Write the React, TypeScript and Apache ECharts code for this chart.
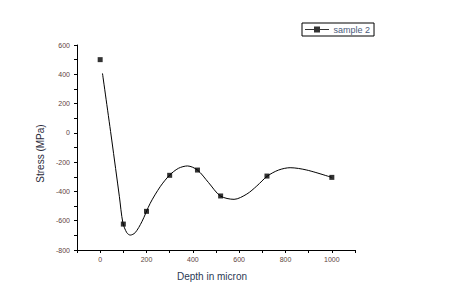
import React, { useEffect, useRef } from "react";
import * as echarts from "echarts";

// measured points (sample 2)
const depth = [0, 100, 200, 300, 420, 520, 720, 1000];
const stress = [500, -623, -536, -290, -254, -431, -295, -304];

// B-spline curve
const curveDepth = [10, 50, 83, 98, 115, 130, 151, 180, 216, 259, 299, 338, 377, 420, 468, 519, 578, 633, 676, 722, 770, 820, 892, 999];
const curveStress = [406, -49, -436, -613, -682, -698, -682, -607, -481, -368, -290, -242, -226, -254, -340, -431, -454, -418, -363, -295, -254, -238, -254, -304];

const seriesName = "sample 2";
const xTitle = "Depth in micron";
const yTitle = "Stress (MPa)";

export default function App() {
  const ref = useRef<HTMLDivElement>(null);
  useEffect(() => {
    if (!ref.current) return;
    const chart = echarts.init(ref.current, null, { renderer: "svg" });
    const font = "'Liberation Sans', Arial, sans-serif";
    chart.setOption({
      animation: false,
      backgroundColor: "#ffffff",
      textStyle: { fontFamily: font },
      grid: { left: 77, right: 98, top: 45, bottom: 40 },
      legend: {
        left: 302,
        top: 23,
        padding: [2, 4, 2, 3],
        borderColor: "#000",
        borderWidth: 1,
        itemWidth: 25,
        itemHeight: 6,
        data: [
          {
            name: seriesName,
            icon: "path://M0,2.5h9v1h-9z M9,0h6v6h-6z M15,2.5h9v1h-9z",
          },
        ],
        itemStyle: { color: "#000" },
        textStyle: { fontSize: 9, color: "#4a5a7a", fontFamily: font, padding: [0, 0, 0, -1] },
      },
      xAxis: {
        type: "value",
        min: -100,
        max: 1100,
        interval: 100,
        name: xTitle,
        nameLocation: "middle",
        nameGap: 21,
        nameTextStyle: { fontSize: 10, color: "#2b3a55", fontFamily: font, padding: [0, 8, 0, 0] },
        axisLine: { show: true, onZero: false, lineStyle: { color: "#000", width: 1 } },
        axisTick: { show: true, length: 3, lineStyle: { color: "#000" } },
        axisLabel: {
          fontSize: 7,
          color: "#5e4440",
          margin: 6,
          formatter: (v: number) => (v >= 0 && v % 200 === 0 ? String(v) : ""),
        },
        splitLine: { show: false },
      },
      yAxis: {
        type: "value",
        min: -800,
        max: 600,
        interval: 200,
        name: yTitle,
        nameLocation: "middle",
        nameGap: 27,
        nameTextStyle: { fontSize: 10, color: "#2a2a3a", fontFamily: font, padding: [0, 12, 0, 0] },
        axisLine: { show: true, onZero: false, lineStyle: { color: "#000", width: 1 } },
        axisTick: { show: true, length: 3, lineStyle: { color: "#000" } },
        minorTick: { show: true, splitNumber: 2, length: 3, lineStyle: { color: "#000" } },
        axisLabel: { fontSize: 7, color: "#5e4440", margin: 7 },
        splitLine: { show: false },
      },
      series: [
        {
          name: "curve",
          type: "line",
          data: curveDepth.map((d, i) => [d, curveStress[i]]),
          smooth: 0.3,
          showSymbol: false,
          symbol: "none",
          lineStyle: { color: "#000", width: 1 },
          silent: true,
          z: 1,
        },
        {
          name: seriesName,
          type: "scatter",
          data: depth.map((d, i) => [d, stress[i]]),
          symbol: "rect",
          symbolSize: 5,
          itemStyle: { color: "#000" },
          z: 2,
        },
      ],
    });
    return () => chart.dispose();
  }, []);
  return <div ref={ref} style={{ width: 453, height: 290, margin: -8 }} />;
}
